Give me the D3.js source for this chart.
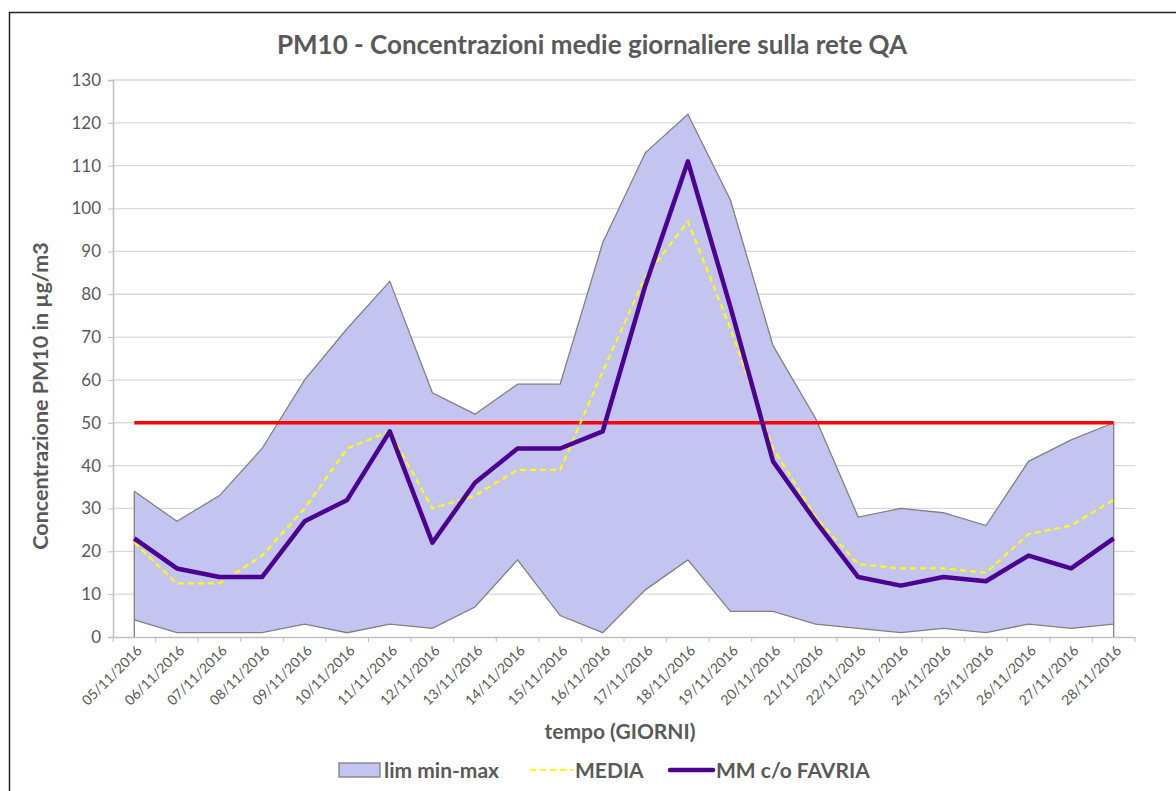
<!DOCTYPE html>
<html>
<head>
<meta charset="utf-8">
<script src="https://d3js.org/d3.v7.min.js"></script>
<style>
  body { margin: 0; background: #fff; }
  text { font-family: Lato, "Open Sans", sans-serif; }
</style>
</head>
<body>
<script>
// dati
var giorni = ["05/11/2016","06/11/2016","07/11/2016","08/11/2016","09/11/2016","10/11/2016",
  "11/11/2016","12/11/2016","13/11/2016","14/11/2016","15/11/2016","16/11/2016","17/11/2016",
  "18/11/2016","19/11/2016","20/11/2016","21/11/2016","22/11/2016","23/11/2016","24/11/2016",
  "25/11/2016","26/11/2016","27/11/2016","28/11/2016"];
var limMin = [4, 1, 1, 1, 3, 1, 3, 2, 7, 18, 5, 1, 11, 18, 6, 6, 3, 2, 1, 2, 1, 3, 2, 3];
var limMax = [34, 27, 33, 44, 60, 72, 83, 57, 52, 59, 59, 92, 113, 122, 102, 68, 51, 28, 30, 29, 26, 41, 46, 50];
var media = [22, 12.5, 12.5, 19, 30, 44, 48, 30, 33, 39, 39, 62, 84, 97, 72, 44, 28, 17, 16, 16, 15, 24, 26, 32];
var favria = [23, 16, 14, 14, 27, 32, 48, 22, 36, 44, 44, 48, 82, 111, 77, 41, 27, 14, 12, 14, 13, 19, 16, 23];
var limite = 50;
var yTicks = [0,10,20,30,40,50,60,70,80,90,100,110,120,130];

var W = 1176, H = 791;
var svg = d3.select("body").append("svg").attr("width", W).attr("height", H);

// cornice
svg.append("rect").attr("x", 9.5).attr("y", 12.5).attr("width", W).attr("height", H)
  .attr("fill", "none").attr("stroke", "#222").attr("stroke-width", 1.5);

var pLeft = 113, pRight = 1135, pTop = 80, pBottom = 637;
var x = d3.scaleBand().domain(giorni).range([pLeft, pRight]);
var y = d3.scaleLinear().domain([0, 130]).range([pBottom, pTop]);
var cx = function(i) { return x(giorni[i]) + x.bandwidth() / 2; };

// griglia
svg.append("g").selectAll("line").data(yTicks.slice(1)).join("line")
  .attr("x1", pLeft).attr("x2", pRight)
  .attr("y1", function(d) { return y(d); }).attr("y2", function(d) { return y(d); })
  .attr("stroke", "#d9d9d9").attr("stroke-width", 1.3);

// area min-max
var area = d3.area().x(function(d, i) { return cx(i); })
  .y0(function(d, i) { return y(limMin[i]); }).y1(function(d) { return y(d); });
svg.append("path").datum(limMax).attr("d", area).attr("fill", "#c3c4ef");

var lineG = d3.line().x(function(d, i) { return cx(i); }).y(function(d) { return y(d); });
svg.append("path").datum(limMax).attr("d", lineG).attr("fill", "none").attr("stroke", "#808080").attr("stroke-width", 1.3);
svg.append("path").datum(limMin).attr("d", lineG).attr("fill", "none").attr("stroke", "#808080").attr("stroke-width", 1.3);
[0, giorni.length - 1].forEach(function(i) {
  svg.append("line").attr("x1", cx(i)).attr("x2", cx(i)).attr("y1", y(0)).attr("y2", y(limMax[i]))
    .attr("stroke", "#808080").attr("stroke-width", 1.3);
});

// assi
var yAxis = svg.append("g").attr("transform", "translate(" + pLeft + ",0)")
  .call(d3.axisLeft(y).tickValues(yTicks).tickSize(5).tickPadding(7));
var xAxis = svg.append("g").attr("transform", "translate(0," + pBottom + ")")
  .call(d3.axisBottom(x).tickSize(0).tickFormat(""));
[yAxis, xAxis].forEach(function(a) {
  a.select(".domain").attr("stroke", "#bfbfbf").attr("stroke-width", 1.5);
  a.selectAll(".tick line").attr("stroke", "#bfbfbf");
});
yAxis.selectAll("text").attr("font-size", 17).attr("fill", "#595959").style("font-family", "Lato, sans-serif");
// tacche tra le categorie
svg.append("g").selectAll("line").data(d3.range(giorni.length + 1)).join("line")
  .attr("x1", function(i) { return pLeft + i * x.bandwidth(); })
  .attr("x2", function(i) { return pLeft + i * x.bandwidth(); })
  .attr("y1", pBottom).attr("y2", pBottom + 5).attr("stroke", "#bfbfbf");
// etichette date
svg.append("g").selectAll("text").data(giorni).join("text")
  .attr("transform", function(d, i) { return "translate(" + (cx(i) + 5) + "," + (pBottom + 11) + ") rotate(-45)"; })
  .attr("text-anchor", "end").attr("dy", "0.35em")
  .attr("font-size", 14).attr("fill", "#595959").text(function(d) { return d; });

// linea limite
svg.append("line").attr("x1", cx(0)).attr("x2", cx(giorni.length - 1))
  .attr("y1", y(limite)).attr("y2", y(limite)).attr("stroke", "#ff0000").attr("stroke-width", 3.5);

// media
svg.append("path").datum(media).attr("d", lineG).attr("fill", "none")
  .attr("stroke", "#ffff00").attr("stroke-width", 2.2).attr("stroke-dasharray", "6,4");
// favria
svg.append("path").datum(favria).attr("d", lineG).attr("fill", "none")
  .attr("stroke", "#4b0091").attr("stroke-width", 4.5).attr("stroke-linejoin", "round");

// titoli
svg.append("text").attr("x", 592).attr("y", 54).attr("text-anchor", "middle")
  .attr("font-size", 26).attr("font-weight", "bold").attr("fill", "#595959")
  .text("PM10 - Concentrazioni medie giornaliere sulla rete QA");
svg.append("text").attr("transform", "translate(40,396) rotate(-90)")
  .attr("text-anchor", "middle").attr("dy", "0.35em").attr("font-size", 21.5).attr("font-weight", "bold").attr("fill", "#595959")
  .text("Concentrazione PM10 in µg/m3");
svg.append("text").attr("x", 620).attr("y", 739).attr("text-anchor", "middle")
  .attr("font-size", 21).attr("font-weight", "bold").attr("fill", "#595959")
  .text("tempo (GIORNI)");

// legenda
var leg = svg.append("g").attr("font-size", 21).attr("font-weight", "bold").attr("fill", "#595959");
leg.append("rect").attr("x", 339).attr("y", 763).attr("width", 41).attr("height", 14)
  .attr("fill", "#c3c4ef").attr("stroke", "#808080").attr("stroke-width", 1.3);
leg.append("text").attr("x", 384).attr("y", 778).text("lim min-max");
leg.append("line").attr("x1", 530).attr("x2", 573).attr("y1", 770).attr("y2", 770)
  .attr("stroke", "#ffff00").attr("stroke-width", 2.2).attr("stroke-dasharray", "6,4");
leg.append("text").attr("x", 575).attr("y", 778).text("MEDIA");
leg.append("line").attr("x1", 670).attr("x2", 713).attr("y1", 770).attr("y2", 770)
  .attr("stroke", "#4b0091").attr("stroke-width", 4.5).attr("stroke-linecap", "round");
leg.append("text").attr("x", 716).attr("y", 778).text("MM c/o FAVRIA");
</script>
</body>
</html>
